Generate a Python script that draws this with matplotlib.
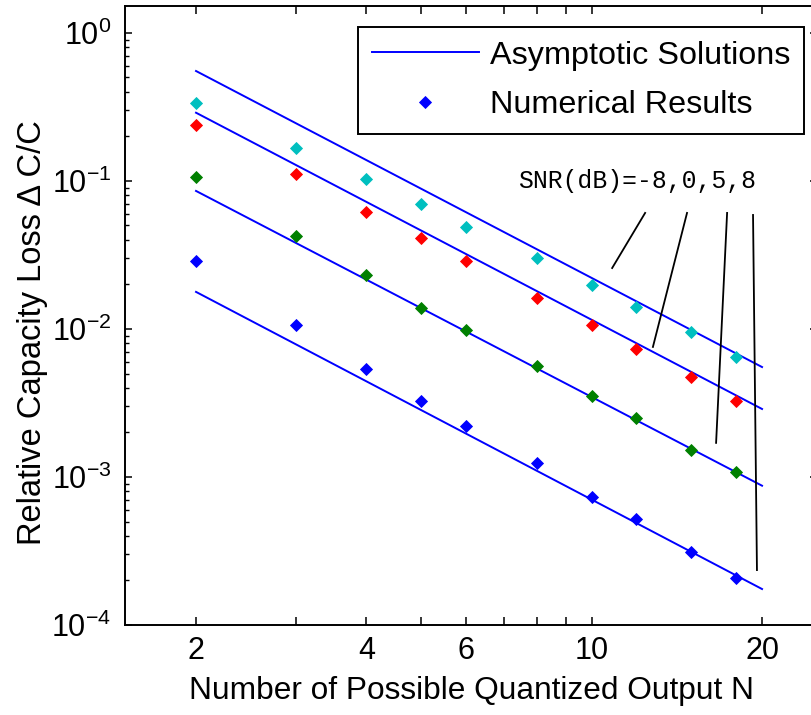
import matplotlib
matplotlib.use('Agg')
import matplotlib.pyplot as plt
from matplotlib.ticker import FixedLocator, FixedFormatter, LogLocator, NullFormatter, NullLocator

plt.rcParams['font.family'] = ['Liberation Sans', 'DejaVu Sans']
plt.rcParams['mathtext.fontset'] = 'custom'
plt.rcParams['mathtext.rm'] = 'Liberation Sans'
plt.rcParams['mathtext.it'] = 'Liberation Sans:italic'
plt.rcParams['mathtext.bf'] = 'Liberation Sans:bold'

# ---------------- data ----------------
N_num = [2, 3, 4, 5, 6, 8, 10, 12, 15, 18]
loss_snr_m8 = [0.335, 0.168, 0.1027, 0.0700, 0.0491, 0.0302, 0.0198, 0.0140, 0.00959, 0.00650]
loss_snr_0 = [0.239, 0.111, 0.0620, 0.0410, 0.0289, 0.0163, 0.01064, 0.00732, 0.00476, 0.00328]
loss_snr_5 = [0.106, 0.0425, 0.0232, 0.0139, 0.00985, 0.00560, 0.00354, 0.00249, 0.00151, 0.00108]
loss_snr_8 = [0.0288, 0.01064, 0.00537, 0.00328, 0.00221, 0.00125, 0.000730, 0.000518, 0.000313, 0.000207]

N_asym = [2, 20]
asym_snr_m8 = [0.553, 0.00553]
asym_snr_0 = [0.289, 0.00288]
asym_snr_5 = [0.0856, 0.000873]
asym_snr_8 = [0.0178, 0.000175]

point_colors = ['#00BFBF', '#FF0000', '#008000', '#0000FF']
line_color = '#0000FF'

x_ticks = [2, 3, 4, 5, 6, 7, 8, 9, 10, 20]
x_ticklabels = ['2', '', '4', '', '6', '', '', '', '10', '20']
y_ticks = [1e-4, 1e-3, 1e-2, 1e-1, 1e0]
y_ticklabels = [r'$\mathregular{10^{-4}}$', r'$\mathregular{10^{-3}}$', r'$\mathregular{10^{-2}}$',
                r'$\mathregular{10^{-1}}$', r'$\mathregular{10^{0}}$']

note_text = 'SNR(dB)=-8,0,5,8'
note_pos = (7.41, 0.1)
pointer_lines = [((12.43, 0.0608), (10.87, 0.0258)),
                 ((14.74, 0.0608), (12.83, 0.00756)),
                 ((17.35, 0.0608), (16.59, 0.0017)),
                 ((19.28, 0.0589), (19.59, 0.000235))]

xlabel = 'Number of Possible Quantized Output N'
ylabel = 'Relative Capacity Loss \u0394 C/C'
legend_labels = ['Asymptotic Solutions', 'Numerical Results']

# ---------------- figure ----------------
W, H = 812, 715
fig = plt.figure(figsize=(W / 100, H / 100), dpi=100)
ax = fig.add_axes([125.3 / W, 90 / H, 691.6 / W, 619 / H])
ax.set_xscale('log')
ax.set_yscale('log')
ax.set_xlim(1.5, 25)
ax.set_ylim(1e-4, 1.52)

asym = [asym_snr_m8, asym_snr_0, asym_snr_5, asym_snr_8]
nums = [loss_snr_m8, loss_snr_0, loss_snr_5, loss_snr_8]

line_handle = None
for i, a in enumerate(asym):
    (h,) = ax.plot(N_asym, a, color=line_color, lw=1.4, zorder=2)
    if i == 0:
        line_handle = h
pt_handle = None
for c, v in zip(point_colors, nums):
    (h,) = ax.plot(N_num, v, linestyle='none', marker='D', ms=6.3, color=c,
                   markeredgecolor=c, markeredgewidth=0.6, zorder=3)
    pt_handle = h

# pointer lines and note
for (p0, p1) in pointer_lines:
    ax.plot([p0[0], p1[0]], [p0[1], p1[1]], color='black', lw=1.3, zorder=4)
ax.text(note_pos[0], note_pos[1], note_text, family=['Liberation Mono', 'DejaVu Sans Mono'],
        fontsize=17.8, ha='left', va='center', zorder=5)

# ticks
ax.xaxis.set_major_locator(FixedLocator(x_ticks))
ax.xaxis.set_major_formatter(FixedFormatter(x_ticklabels))
ax.xaxis.set_minor_locator(NullLocator())
ax.yaxis.set_major_locator(FixedLocator(y_ticks))
ax.yaxis.set_major_formatter(FixedFormatter(y_ticklabels))
ax.yaxis.set_minor_locator(LogLocator(base=10, subs=[2, 3, 4, 5, 6, 7, 8, 9], numticks=20))
ax.yaxis.set_minor_formatter(NullFormatter())

ax.tick_params(axis='x', which='major', direction='in', length=6, width=1.1,
               top=True, labelsize=22, pad=8)
ax.tick_params(axis='y', which='major', direction='in', length=5, width=1.1,
               right=True, labelsize=22, pad=10)
ax.tick_params(axis='y', which='minor', direction='in', length=3.2, width=1.0, right=True)

for s in ax.spines.values():
    s.set_linewidth(1.4)
    s.set_color('black')

ax.set_xlabel(xlabel, fontsize=22.8, labelpad=7)
ax.set_ylabel(ylabel, fontsize=23.5)
ax.yaxis.set_label_coords((48 - 125.3) / 691.6, (625 - 333) / 619)

leg = ax.legend([line_handle, pt_handle], legend_labels, loc='upper right',
                bbox_to_anchor=(804 / W, 1 - 27 / H), bbox_transform=fig.transFigure,
                fontsize=23.3, frameon=True, fancybox=False, shadow=False, numpoints=1,
                handlelength=3.3, handletextpad=0.35, labelspacing=0.6, borderpad=0.42,
                borderaxespad=0)
leg.get_frame().set_edgecolor('black')
leg.get_frame().set_linewidth(1.4)
leg.get_frame().set_facecolor('white')
leg.get_frame().set_alpha(1)

fig.savefig('out.png', dpi=100)
